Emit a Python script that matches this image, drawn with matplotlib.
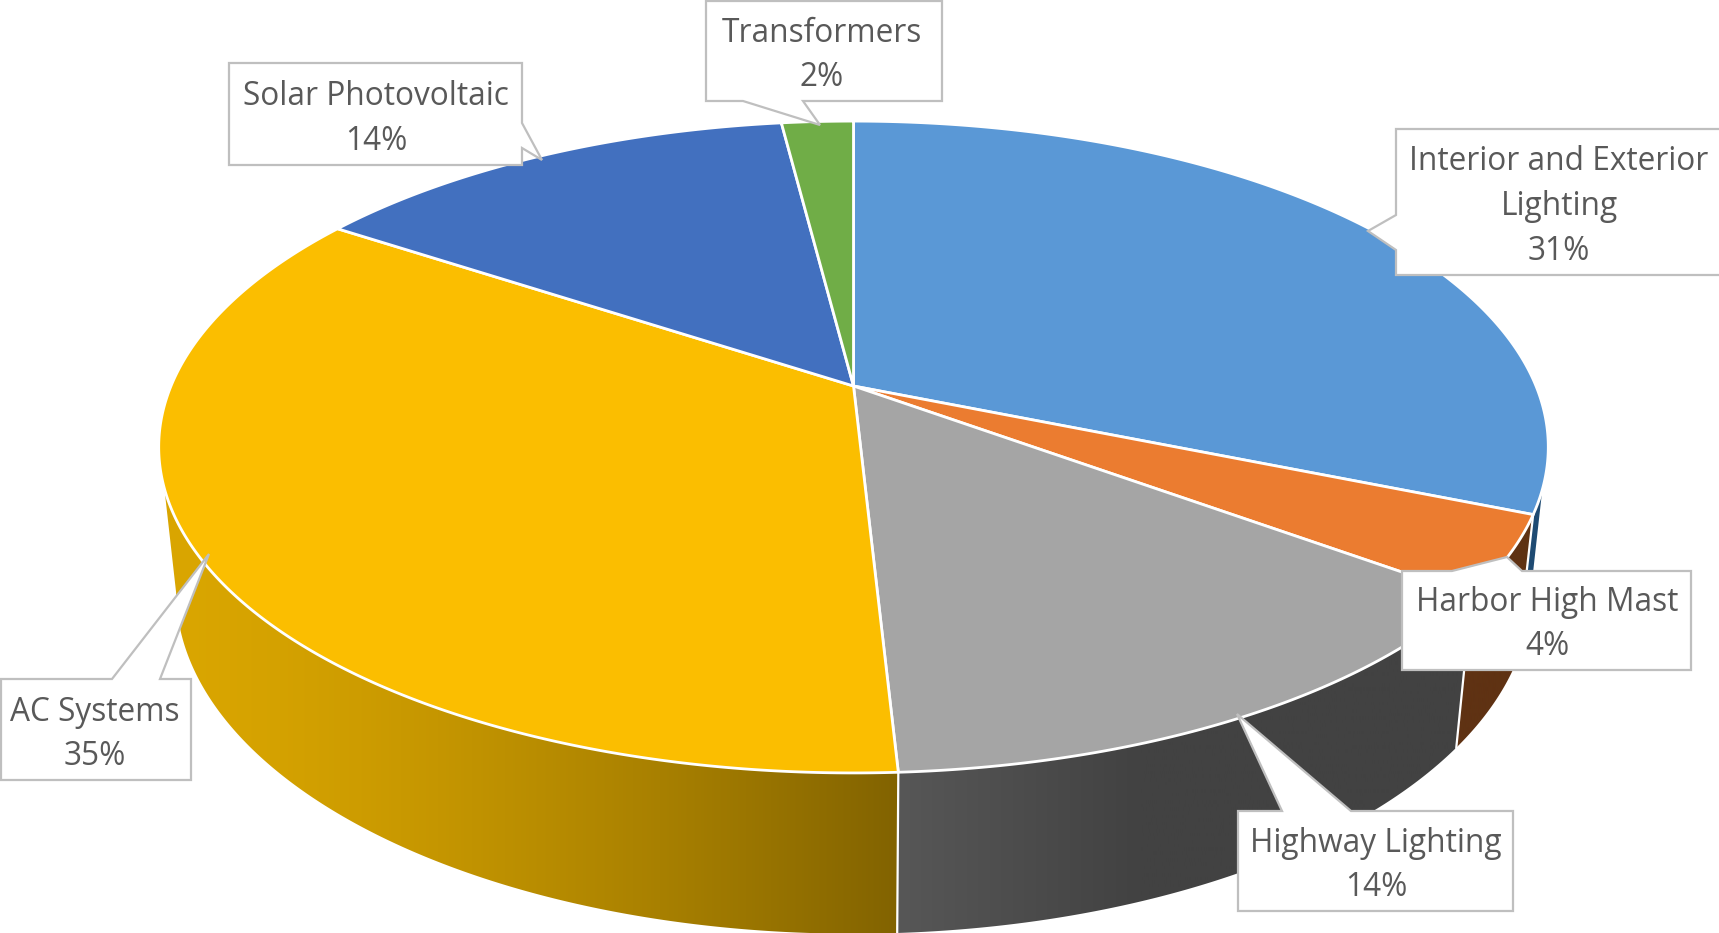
import numpy as np
import matplotlib
matplotlib.use("Agg")
import matplotlib.pyplot as plt
from matplotlib.patches import Polygon
from matplotlib.colors import to_rgb

# ---- data -------------------------------------------------------------
categories = ["Interior and Exterior\nLighting", "Harbor High Mast", "Highway Lighting",
              "AC Systems", "Solar Photovoltaic", "Transformers"]
shares = [31.2, 3.9, 14.05, 35.15, 13.7, 2.0]

# ---- styles -----------------------------------------------------------
top_colors = ["#5A98D6", "#EB7C30", "#A5A5A5", "#FBBE00", "#4270BF", "#70AD47"]
side_left = ["#1F4B73", "#5F3213", "#575757", "#DAA600", "#2A4A80", "#4A7030"]
side_right = ["#1F4B73", "#5F3213", "#424242", "#826300", "#2A4A80", "#4A7030"]
grad_stop = [1, 1, 0.42, 1, 1, 1]
grad_pow = [1, 1, 1, 1.45, 1, 1]

# callout outlines in pixels: box plus pointer
boxes = [
    dict(xy=[(1396, 129), (1726, 129), (1726, 275), (1396, 275), (1396, 250), (1368, 231), (1396, 215)],
         c=(1559, 206.5)),
    dict(xy=[(1402, 571), (1452, 571), (1507, 557), (1522, 571), (1691, 571), (1691, 670), (1402, 670)],
         c=(1547, 624.5)),
    dict(xy=[(1238, 811), (1282, 811), (1237, 714), (1351, 811), (1513, 811), (1513, 911), (1238, 911)],
         c=(1376, 865.5)),
    dict(xy=[(1, 679), (112, 679), (209, 554), (160, 679), (191, 679), (191, 780), (1, 780)],
         c=(95, 734.5)),
    dict(xy=[(229, 63), (522, 63), (522, 123), (542, 160), (522, 148), (522, 165), (229, 165)],
         c=(376, 119)),
    dict(xy=[(706, 1), (942, 1), (942, 101), (803, 101), (820, 125), (743, 101), (706, 101)],
         c=(822, 55.5)),
]

# projection of the pie
CX, CY, A, B, K = 853.5, 386.0, 682.5, 314.5, 0.1872
ELL_CY, BOT_CY, SX, SY = 447.5, 592.0, 0.975, 1.05
TANGENT_Y = 489.0


def top_xy(theta):
    u, v = np.sin(theta), np.cos(theta)
    w = 1 + K * v
    return CX + A * u / w, CY - B * v / w


def bottom_xy(theta):
    x, y = top_xy(theta)
    return CX + (x - CX) * SX, BOT_CY + (y - ELL_CY) * SY


def wall_points(i, t0, t1):
    th = np.linspace(t0, t1, 400)
    tx, ty = top_xy(th)
    bx, by = bottom_xy(th)
    if i == 0:  # right end: runs up to the silhouette
        a = np.argmin(np.abs(ty - TANGENT_Y))
        b = np.argmax(bx)
        return np.r_[np.c_[tx[a:], ty[a:]], np.c_[bx[b:], by[b:]][::-1]]
    if i == 3:  # left end: runs up to the silhouette
        a = np.argmin(np.abs(ty - TANGENT_Y))
        b = np.argmin(bx)
        return np.r_[np.c_[tx[:a + 1], ty[:a + 1]], np.c_[bx[:b + 1], by[:b + 1]][::-1]]
    return np.r_[np.c_[tx, ty], np.c_[bx, by][::-1]]


fig = plt.figure(figsize=(17.19, 9.33), dpi=100, facecolor="white")
ax = fig.add_axes([0, 0, 1, 1])
ax.set_xlim(0, 1719)
ax.set_ylim(933, 0)
ax.axis("off")

edges = np.cumsum([0] + shares) / sum(shares) * 2 * np.pi
slices = list(zip(edges[:-1], edges[1:]))

# side walls: only the front half can show
for i in [0, 1, 2, 3]:
    t0, t1 = slices[i]
    pts = wall_points(i, t0, t1)
    wall = Polygon(pts, closed=True, fc="none", ec="none", zorder=2)
    ax.add_patch(wall)
    x0, x1 = pts[:, 0].min(), pts[:, 0].max()
    s = np.linspace(0, 1, 256)
    t = np.clip(s / grad_stop[i], 0, 1) ** grad_pow[i]
    rgb = (1 - t)[:, None] * np.array(to_rgb(side_left[i])) + t[:, None] * np.array(to_rgb(side_right[i]))
    im = ax.imshow(rgb[None, :, :], extent=[x0, x1, 933, 0], aspect="auto", zorder=2, interpolation="bilinear")
    im.set_clip_path(wall)
    if i in (1, 2, 3):
        ex, ey = top_xy(t0), bottom_xy(t0)
        ax.plot([ex[0], ey[0]], [ex[1], ey[1]], color="white", lw=1.6, zorder=3)
ax.set_xlim(0, 1719)
ax.set_ylim(933, 0)

# top faces
for (t0, t1), col in zip(slices, top_colors):
    th = np.linspace(t0, t1, 300)
    tx, ty = top_xy(th)
    pts = np.r_[[[CX, CY]], np.c_[tx, ty]]
    ax.add_patch(Polygon(pts, closed=True, fc=col, ec="white", lw=2.0, joinstyle="round", zorder=4))

# callouts
for box, cat, val in zip(boxes, categories, shares):
    ax.add_patch(Polygon(box["xy"], closed=True, fc="white", ec="#BFBFBF", lw=1.6, zorder=6, clip_on=True))
    ax.text(box["c"][0], box["c"][1], f"{cat}\n{val:.0f}%", ha="center", va="center",
            family="Open Sans", fontsize=22.8, color="#595959", linespacing=1.47, zorder=7)

fig.savefig("out.png", dpi=100, facecolor="white")
